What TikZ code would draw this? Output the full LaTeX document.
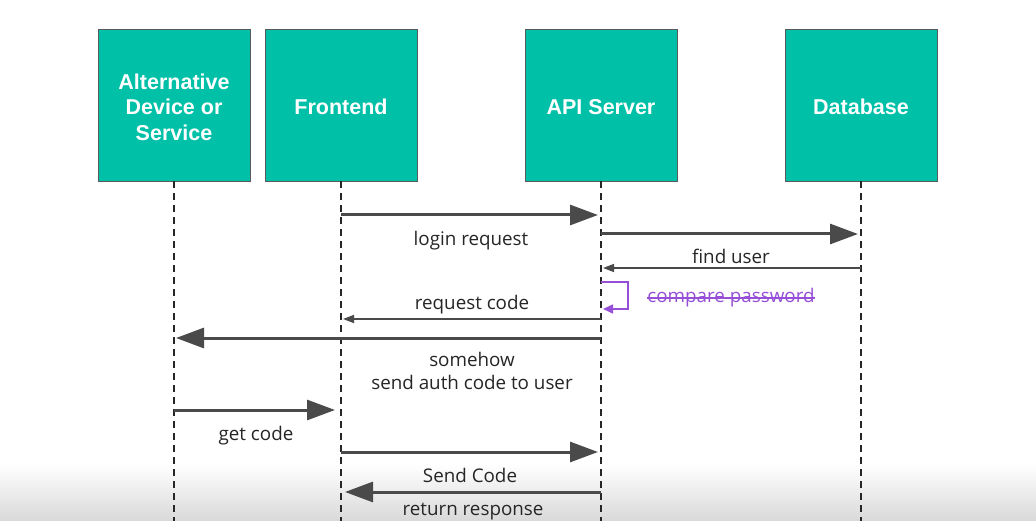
\documentclass[tikz,border=0pt]{standalone}
\usepackage{fontspec}
\setmainfont{Open Sans}
\newfontfamily\boxfont{Liberation Sans}
\usetikzlibrary{arrows.meta}
\definecolor{teal}{RGB}{0,192,168}
\definecolor{edgegray}{RGB}{90,90,90}
\definecolor{msg}{RGB}{74,74,74}
\definecolor{violet}{RGB}{150,80,215}
\begin{document}
\begin{tikzpicture}[x=1pt,y=-1pt,
  actor/.style={draw=edgegray,line width=0.8pt,fill=teal,minimum width=152pt,minimum height=152pt,
    inner sep=0pt,align=center,text=white,font=\boxfont\bfseries\fontsize{21.5}{25.5}\selectfont},
  life/.style={draw=black!85,line width=1.3pt,dash pattern=on 7pt off 5pt},
  bigmsg/.style={draw=msg,line width=3pt,-{Triangle[length=28pt,width=20pt]}},
  smallmsg/.style={draw=msg,line width=1.4pt,-{Triangle[length=11pt,width=8pt]}},
  lbl/.style={font=\fontsize{18.8}{22.5}\selectfont,text=black!85,align=center,inner sep=0pt}]
\useasboundingbox (0,0) rectangle (1036,521);
\fill[white] (0,0) rectangle (1036,521);
% soft grey band along the foot
\shade[top color=white,bottom color=black!15] (0,464) rectangle (1036,521);

% participants
\node[actor] (alt) at (174,105) {};
\node[actor] (fe)  at (341,105) {};
\node[actor] (api) at (601,105) {};
\node[actor] (db)  at (861,105) {};
\node[actor,draw=none,fill=none] (alt-t) at (174,107) {Alternative\\Device or\\Service};
\node[actor,draw=none,fill=none] (fe-t)  at (341,107) {Frontend};
\node[actor,draw=none,fill=none] (api-t) at (601,107) {API Server};
\node[actor,draw=none,fill=none] (db-t)  at (861,107) {Database};

% lifelines
\foreach \p in {alt,fe,api,db}{
  \coordinate (\p-end) at (\p.south |- 0,521);
  \draw[life] (\p.south) -- (\p-end);
}

% message anchors on the lifelines
\coordinate (m1a) at (fe.south |- 0,215);  \coordinate (m1b) at (api.south |- 0,215);
\coordinate (m2a) at (api.south |- 0,234); \coordinate (m2b) at (db.south |- 0,234);
\coordinate (m3a) at (db.south |- 0,268);  \coordinate (m3b) at (api.south |- 0,268);
\coordinate (m5a) at (api.south |- 0,319); \coordinate (m5b) at (fe.south |- 0,319);
\coordinate (m6a) at (api.south |- 0,338); \coordinate (m6b) at (alt.south |- 0,338);
\coordinate (m7a) at (alt.south |- 0,410); \coordinate (m7b) at (fe.south |- 0,410);
\coordinate (m8a) at (fe.south |- 0,452);  \coordinate (m8b) at (api.south |- 0,452);
\coordinate (m9a) at (api.south |- 0,492); \coordinate (m9b) at (fe.south |- 0,492);

% messages
\draw[bigmsg] (m1a) -- ([xshift=-3pt]m1b);
\node[lbl] (l1) at (471,241) {login request};
\draw[bigmsg] (m2a) -- ([xshift=-3pt]m2b);
\node[lbl] (l2) at (731,256) {find user};
\draw[smallmsg] (m3a) -- ([xshift=2pt]m3b);
% self call
\coordinate (s1) at (601,282);
\coordinate (s2) at (603,309);
\draw[draw=violet,line width=1.6pt,-{Triangle[length=10pt,width=9pt]}]
  (s1) -- ++(27,0) -- ++(0,27) -- (s2);
\node[lbl,text=violet] (l4) at (731,298) {compare password};
\draw[violet,line width=1.4pt] ([yshift=0pt]l4.west) -- ([yshift=0pt]l4.east);
\draw[smallmsg] (m5a) -- ([xshift=2pt]m5b);
\node[lbl] (l5) at (472,305) {request code};
\draw[bigmsg] (m6a) -- ([xshift=2pt]m6b);
\node[lbl] (l6) at (472,371) {somehow\\send auth code to user};
\draw[bigmsg] (m7a) -- ([xshift=-6pt]m7b);
\node[lbl] (l7) at (256,436) {get code};
\draw[bigmsg] (m8a) -- ([xshift=-3pt]m8b);
\node[lbl] (l8) at (470,475) {Send Code};
\draw[bigmsg] (m9a) -- ([xshift=4pt]m9b);
\node[lbl] (l9) at (473,512) {return response};
\end{tikzpicture}
\end{document}
